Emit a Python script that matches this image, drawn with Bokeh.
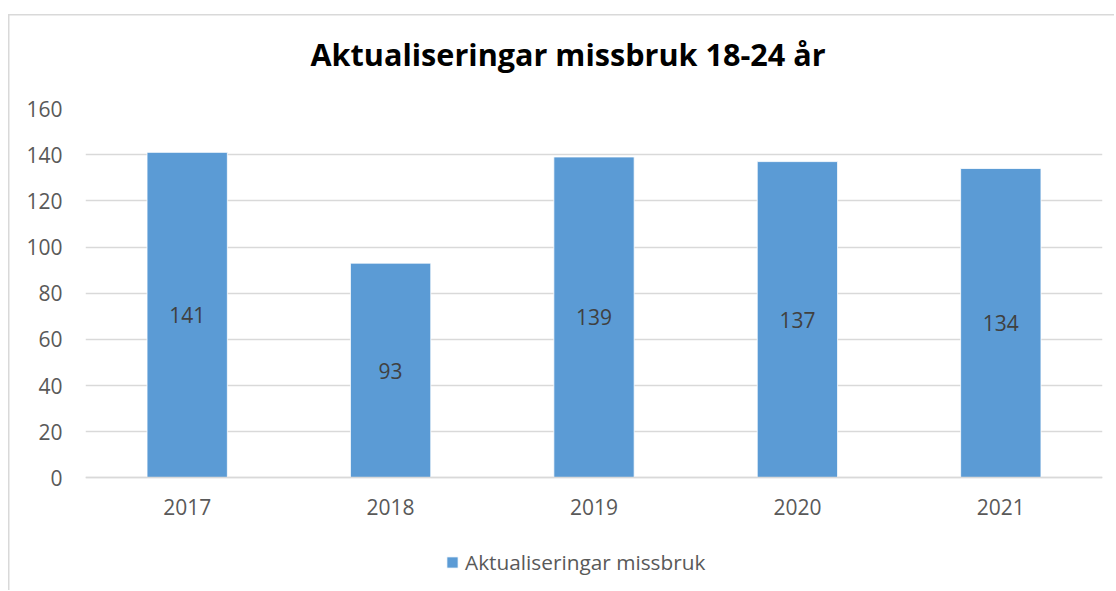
from bokeh.plotting import figure
from bokeh.models import ColumnDataSource, FactorRange, Range1d, LabelSet, Legend, LegendItem, FixedTicker
from bokeh.core.properties import value
from bokeh.embed import file_html
from bokeh.resources import INLINE

years = ["2017", "2018", "2019", "2020", "2021"]
values = [141, 93, 139, 137, 134]
y_ticks = [0, 20, 40, 60, 80, 100, 120, 140, 160]
title_text = "Aktualiseringar missbruk 18-24 år"
series_name = "Aktualiseringar missbruk"

FONT = "Open Sans"
BAR = "#5B9BD5"
GRID = "#D9D9D9"

src = ColumnDataSource(dict(x=years, top=values, mid=[v / 2 for v in values],
                            lab=[str(v) for v in values]))

# the plot frame extends below zero to hold the category labels and the legend
p = figure(width=1114, height=590, output_backend="svg", toolbar_location=None,
           x_range=FactorRange(*years, range_padding=0), y_range=Range1d(-48.8, 160),
           min_border_left=85, min_border_right=12, min_border_top=108, min_border_bottom=0)
p.border_fill_color = None
p.styles = {
    "background-image": "linear-gradient(#D9D9D9, #D9D9D9), linear-gradient(#D9D9D9, #D9D9D9)",
    "background-size": "1.5px 100%, 100% 1.5px",
    "background-position": "8px 14px, 8px 14px",
    "background-repeat": "no-repeat",
}

p.title.text = title_text
p.title.text_font = FONT
p.title.text_font_size = "30.6px"
p.title.text_font_style = "bold"
p.title.text_color = "#000000"
p.title.align = "left"
p.title.offset = 225
p.title.standoff = 63
p.title.vertical_align = "top"

r = p.vbar(x="x", top="top", width=0.395, source=src, fill_color=BAR, line_color="white", line_width=0.8)

labels = LabelSet(x="x", y="mid", text="lab", source=src, text_align="center", text_baseline="middle",
                  text_font_size="21px", text_color="#404040", text_font=value(FONT))
p.add_layout(labels)

p.outline_line_color = None
p.background_fill_color = "white"
p.xgrid.grid_line_color = None
p.ygrid.grid_line_color = GRID
p.ygrid.grid_line_width = 1.5
p.yaxis.ticker = FixedTicker(ticks=y_ticks)
p.yaxis.axis_line_color = None
p.yaxis.major_tick_line_color = None
p.yaxis.minor_tick_line_color = None
p.yaxis.major_tick_out = 0
p.yaxis.major_tick_in = 0
p.yaxis.major_label_standoff = 23
p.yaxis.major_label_text_font = FONT
p.yaxis.major_label_text_font_size = "21px"
p.yaxis.major_label_text_color = "#595959"

p.xaxis.fixed_location = 0
p.xaxis.axis_line_color = GRID
p.xaxis.axis_line_width = 1.5
p.xaxis.major_tick_line_color = None
p.xaxis.minor_tick_line_color = None
p.xaxis.major_tick_out = 0
p.xaxis.major_tick_in = 0
p.xaxis.major_label_standoff = 21
p.xaxis.major_label_text_font = FONT
p.xaxis.major_label_text_font_size = "21px"
p.xaxis.major_label_text_color = "#595959"

legend = Legend(items=[LegendItem(label=series_name, renderers=[r])], location=(360, 14),
                orientation="horizontal", glyph_width=14, glyph_height=14, label_standoff=6,
                padding=0, margin=0, border_line_color=None, background_fill_alpha=0,
                label_text_font=FONT, label_text_font_size="20.8px", label_text_color="#595959")
p.add_layout(legend, "center")

open("out.html", "w").write(file_html(p, INLINE))
